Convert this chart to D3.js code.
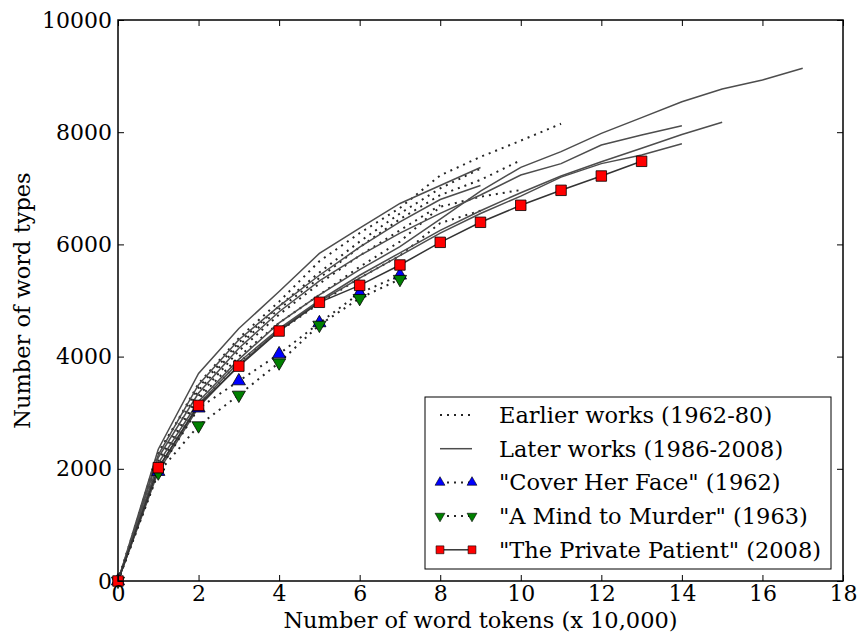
<!doctype html>
<html>
<head>
<meta charset="utf-8">
<title>Word types vs word tokens</title>
<script src="https://cdn.jsdelivr.net/npm/d3@7/dist/d3.min.js"></script>
<style>
	body { margin: 0; background: #fff; }
	text { font-family: "DejaVu Serif", serif; fill: #000; }
	.axis path { display: none; }
	.axis line { stroke: #000; stroke-width: 1; }
</style>
</head>
<body>
<svg id="chart" width="859" height="635"></svg>
<script>
// values: word types after 0, 1, 2, ... x 10,000 word tokens
var earlierWorks = [
	[0, 2250, 3520, 4330, 4980, 5700, 6200, 6650, 7230, 7560, 7850, 8150],
	[0, 2150, 3400, 4200, 4850, 5400, 5950, 6450, 6880, 7150, 7500],
	[0, 2050, 3250, 4000, 4600, 5100, 5600, 6050, 6670, 6850, 6970],
	[0, 2000, 3150, 3900, 4450, 4950, 5400, 5800, 6380, 6600],
	[0, 2300, 3450, 4250, 4900, 5500, 6050, 6550, 7000, 7350],
	[0, 2100, 3300, 4100, 4750, 5300, 5800, 6250, 6700]
];
var laterWorks = [
	[0, 2350, 3700, 4500, 5160, 5840, 6290, 6730, 7050, 7370],
	[0, 2100, 3200, 3950, 4600, 5100, 5550, 5960, 6450, 6950, 7374, 7653, 7980, 8259, 8544, 8770, 8930, 9140],
	[0, 2200, 3350, 4150, 4800, 5350, 5800, 6200, 6554, 6880, 7237, 7440, 7772, 7950, 8116],
	[0, 2000, 3150, 3900, 4500, 5000, 5450, 5850, 6250, 6600, 6921, 7219, 7474, 7713, 7960, 8177],
	[0, 1950, 3100, 3850, 4480, 4980, 5400, 5800, 6200, 6550, 6860, 7200, 7440, 7594, 7795],
	[0, 2250, 3500, 4300, 4900, 5450, 5950, 6400, 6800, 7050]
];
var coverHerFace = [0, 1950, 3080, 3565, 4046, 4600, 5130, 5450];
var mindToMurder = [0, 1930, 2770, 3316, 3892, 4563, 5040, 5380];
var privatePatient = [0, 2020, 3130, 3830, 4456, 4968, 5270, 5633, 6037, 6394, 6697, 6964, 7219, 7481];

var xTicks = [0, 2, 4, 6, 8, 10, 12, 14, 16, 18];
var yTicks = [0, 2000, 4000, 6000, 8000, 10000];
var legendLabels = [
	"Earlier works (1962-80)",
	"Later works (1986-2008)",
	"\"Cover Her Face\" (1962)",
	"\"A Mind to Murder\" (1963)",
	"\"The Private Patient\" (2008)"
];

var svg = d3.select("#chart");
var plotLeft = 118, plotRight = 843, plotTop = 20, plotBottom = 581;

var x = d3.scaleLinear().domain([0, 18]).range([plotLeft, plotRight]);
var y = d3.scaleLinear().domain([0, 10000]).range([plotBottom, plotTop]);

var line = d3.line()
	.x(function(d, i) { return x(i); })
	.y(function(d) { return y(d); });

var grey = "#4d4d4d";
var dotColor = "#262626";
var dots = "2,5";
var plot = svg.append("g");

// earlier works, dotted
plot.selectAll(".early").data(earlierWorks).enter().append("path")
	.attr("d", line).attr("fill", "none")
	.attr("stroke", dotColor).attr("stroke-width", 2)
	.attr("stroke-dasharray", dots);

// later works, solid
plot.selectAll(".late").data(laterWorks).enter().append("path")
	.attr("d", line).attr("fill", "none")
	.attr("stroke", grey).attr("stroke-width", 1.5);

// highlighted books
plot.append("path").attr("d", line(coverHerFace)).attr("fill", "none")
	.attr("stroke", dotColor).attr("stroke-width", 2).attr("stroke-dasharray", dots);
plot.append("path").attr("d", line(mindToMurder)).attr("fill", "none")
	.attr("stroke", dotColor).attr("stroke-width", 2).attr("stroke-dasharray", dots);
plot.append("path").attr("d", line(privatePatient)).attr("fill", "none")
	.attr("stroke", "#333").attr("stroke-width", 1.5);

var triUp = d3.symbol().type(d3.symbolTriangle).size(75);
var square = d3.symbol().type(d3.symbolSquare).size(110);

function markers(data, sym, fill, rot) {
	plot.append("g").selectAll("path").data(data).enter().append("path")
		.attr("d", sym)
		.attr("transform", function(d, i) {
			return "translate(" + x(i) + "," + y(d) + ") rotate(" + rot + ")";
		})
		.attr("fill", fill).attr("stroke", "#000").attr("stroke-width", 0.8);
}
markers(coverHerFace, triUp, "#0000ff", 0);
markers(mindToMurder, triUp, "#008000", 180);
markers(privatePatient, square, "#ff0000", 0);

// axes (ticks inside, on all four sides)
svg.append("g").attr("class", "axis")
	.attr("transform", "translate(0," + plotBottom + ")")
	.call(d3.axisBottom(x).tickValues(xTicks).tickSize(-6).tickPadding(4))
	.selectAll("text").style("font-size", "22px");
svg.append("g").attr("class", "axis")
	.attr("transform", "translate(0," + plotTop + ")")
	.call(d3.axisTop(x).tickValues(xTicks).tickSize(-6).tickFormat(""));
svg.append("g").attr("class", "axis")
	.attr("transform", "translate(" + plotLeft + ",0)")
	.call(d3.axisLeft(y).tickValues(yTicks).tickSize(-6).tickPadding(6).tickFormat(d3.format("d")))
	.selectAll("text").style("font-size", "22px");
svg.append("g").attr("class", "axis")
	.attr("transform", "translate(" + plotRight + ",0)")
	.call(d3.axisRight(y).tickValues(yTicks).tickSize(-6).tickFormat(""));

svg.append("rect")
	.attr("x", plotLeft).attr("y", plotTop)
	.attr("width", plotRight - plotLeft).attr("height", plotBottom - plotTop)
	.attr("fill", "none").attr("stroke", "#000").attr("stroke-width", 1.5);

svg.append("text")
	.attr("x", (plotLeft + plotRight) / 2).attr("y", 628)
	.attr("text-anchor", "middle").style("font-size", "22.5px")
	.text("Number of word tokens (x 10,000)");
svg.append("text")
	.attr("transform", "translate(30," + (plotTop + plotBottom) / 2 + ") rotate(-90)")
	.attr("text-anchor", "middle").style("font-size", "22.5px")
	.text("Number of word types");

// legend
var lg = svg.append("g");
lg.append("rect").attr("x", 425).attr("y", 397).attr("width", 406).attr("height", 172)
	.attr("fill", "#fff").attr("stroke", "#000").attr("stroke-width", 1);

var rowY = function(i) { return 415 + i * 33.7; };
var styles = [
	{ dash: dots, stroke: dotColor, sym: null },
	{ dash: null, stroke: grey, sym: null },
	{ dash: dots, stroke: dotColor, sym: triUp, fill: "#0000ff", rot: 0 },
	{ dash: dots, stroke: dotColor, sym: triUp, fill: "#008000", rot: 180 },
	{ dash: null, stroke: "#333", sym: square, fill: "#ff0000", rot: 0 }
];
legendLabels.forEach(function(label, i) {
	var s = styles[i], yy = rowY(i);
	lg.append("line").attr("x1", 440).attr("x2", 472).attr("y1", yy).attr("y2", yy)
		.attr("stroke", s.stroke).attr("stroke-width", s.dash ? 2 : 1.5)
		.attr("stroke-dasharray", s.dash);
	if (s.sym) {
		[440, 472].forEach(function(px) {
			lg.append("path").attr("d", s.sym)
				.attr("transform", "translate(" + px + "," + yy + ") rotate(" + s.rot + ") scale(0.75)")
				.attr("fill", s.fill).attr("stroke", "#000").attr("stroke-width", 0.8);
		});
	}
	lg.append("text").attr("x", 499).attr("y", yy).attr("dy", "0.35em")
		.style("font-size", "22.5px").text(label);
});
</script>
</body>
</html>
